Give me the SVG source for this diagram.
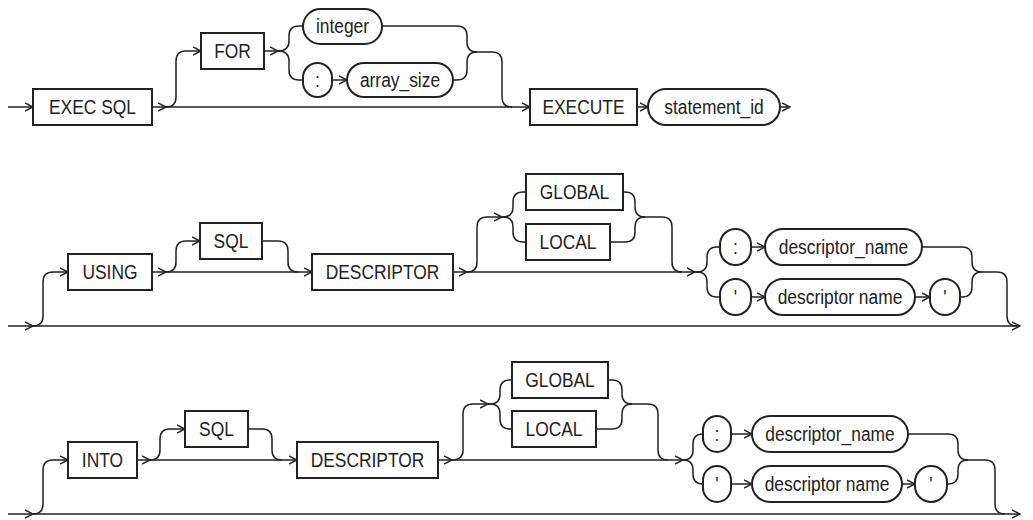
<svg xmlns="http://www.w3.org/2000/svg" width="1033" height="520" viewBox="0 0 1033 520">
<style>
.box{fill:#fff;stroke:#222;stroke-width:2}
.ln{fill:none;stroke:#222;stroke-width:1.5}
.a{marker-end:url(#arr)}
text{font-family:"Liberation Sans",Arial,sans-serif;font-size:20px;fill:#222;text-anchor:middle;transform-box:fill-box;transform-origin:center;transform:scaleX(0.87)}
</style>
<defs>
<marker id="arr" markerUnits="userSpaceOnUse" markerWidth="9" markerHeight="10" viewBox="0 0 9 10" refX="8.5" refY="5" orient="auto">
<path d="M0.5,1 L8.5,5 L0.5,9" fill="none" stroke="#222" stroke-width="1.5"/>
</marker>
</defs>
<rect width="1033" height="520" fill="#fff"/>
<g id="connectors">
<!-- row 1 -->
<path class="ln a" d="M8,107 H33"/>
<path class="ln a" d="M152,107 H166"/>
<path class="ln a" d="M166,107 H530"/>
<path class="ln a" d="M166,107 Q176,107 176,97 V61 Q176,51 186,51 H201"/>
<path class="ln a" d="M264,51 H278"/>
<path class="ln" d="M278,51 Q289,51 289,41 V36 Q289,26 299,26 H303"/>
<path class="ln" d="M278,51 Q289,51 289,61 V70 Q289,80 299,80 H303"/>
<path class="ln a" d="M332,80 H347"/>
<path class="ln" d="M382,26 H457 Q467,26 467,36 V42 Q467,52 477,52"/>
<path class="ln" d="M453,80 H457 Q467,80 467,70 V62 Q467,52 477,52"/>
<path class="ln" d="M477,52 H492 Q502,52 502,62 V97 Q502,107 512,107"/>
<path class="ln a" d="M637,107 H648"/>
<path class="ln a" d="M780,107 H790"/>
<!-- row 2 -->
<path class="ln a" d="M8,326 H33"/>
<path class="ln a" d="M33,326 H1020"/>
<path class="ln a" d="M33,326 Q43,326 43,316 V282 Q43,272 53,272 H68"/>
<path class="ln a" d="M152,272 H166"/>
<path class="ln a" d="M166,272 H312"/>
<path class="ln a" d="M166,272 Q176,272 176,262 V251 Q176,241 186,241 H200"/>
<path class="ln" d="M262,241 H278 Q288,241 288,251 V262 Q288,272 298,272"/>
<path class="ln a" d="M453,272 H467"/>
<path class="ln a" d="M467,272 H695"/>
<path class="ln a" d="M467,272 Q477,272 477,262 V227 Q477,217 487,217 H502"/>
<path class="ln" d="M502,217 H503 Q513,217 513,207 V202 Q513,192 523,192 H526"/>
<path class="ln" d="M502,217 H503 Q513,217 513,227 V232 Q513,242 523,242 H526"/>
<path class="ln" d="M623,192 H625 Q635,192 635,202 V207 Q635,217 645,217"/>
<path class="ln" d="M610,242 H625 Q635,242 635,232 V227 Q635,217 645,217"/>
<path class="ln" d="M645,217 H662 Q672,217 672,227 V262 Q672,272 682,272"/>
<path class="ln" d="M695,272 H697 Q707,272 707,262 V257 Q707,247 717,247 H720"/>
<path class="ln" d="M695,272 H697 Q707,272 707,282 V287 Q707,297 717,297 H720"/>
<path class="ln a" d="M751,247 H765"/>
<path class="ln a" d="M751,297 H765"/>
<path class="ln a" d="M915,297 H930"/>
<path class="ln" d="M922,247 H962 Q972,247 972,257 V262 Q972,272 982,272"/>
<path class="ln" d="M960,297 H962 Q972,297 972,287 V282 Q972,272 982,272"/>
<path class="ln" d="M982,272 H997 Q1007,272 1007,282 V316 Q1007,326 1017,326"/>
<!-- row 3 -->
<path class="ln a" d="M8,514 H33"/>
<path class="ln a" d="M33,514 H1020"/>
<path class="ln a" d="M33,514 Q43,514 43,504 V470 Q43,460 53,460 H68"/>
<path class="ln a" d="M137,460 H150"/>
<path class="ln a" d="M150,460 H297"/>
<path class="ln a" d="M150,460 Q160,460 160,450 V439 Q160,429 170,429 H185"/>
<path class="ln" d="M248,429 H262 Q272,429 272,439 V450 Q272,460 282,460"/>
<path class="ln a" d="M438,460 H452"/>
<path class="ln a" d="M452,460 H683"/>
<path class="ln a" d="M452,460 Q463,460 463,450 V414 Q463,404 473,404 H488"/>
<path class="ln" d="M488,404 H490 Q500,404 500,394 V390 Q500,380 510,380 H512"/>
<path class="ln" d="M488,404 H490 Q500,404 500,414 V419 Q500,429 510,429 H512"/>
<path class="ln" d="M608,380 H612 Q622,380 622,390 V394 Q622,404 632,404"/>
<path class="ln" d="M596,429 H612 Q622,429 622,419 V414 Q622,404 632,404"/>
<path class="ln" d="M632,404 H648 Q658,404 658,414 V450 Q658,460 668,460"/>
<path class="ln" d="M683,460 Q693,460 693,450 V444 Q693,434 703,434"/>
<path class="ln" d="M683,460 Q693,460 693,470 V474 Q693,484 703,484"/>
<path class="ln a" d="M731,434 H752"/>
<path class="ln a" d="M731,484 H752"/>
<path class="ln a" d="M902,484 H915"/>
<path class="ln" d="M908,434 H948 Q958,434 958,444 V450 Q958,460 968,460"/>
<path class="ln" d="M947,484 H948 Q958,484 958,474 V470 Q958,460 968,460"/>
<path class="ln" d="M968,460 H985 Q995,460 995,470 V504 Q995,514 1005,514"/>
</g>
<!-- row 1 nodes -->
<g id="n-execsql"><rect class="box" x="33" y="89" width="119" height="36"/><text x="92.5" y="114">EXEC SQL</text></g>
<g id="n-for"><rect class="box" x="201" y="33" width="63" height="36"/><text x="232.5" y="58">FOR</text></g>
<g id="n-integer"><rect class="box" x="303" y="9" width="79" height="35" rx="17.5"/><text x="342.5" y="33.5">integer</text></g>
<g id="n-colon1"><rect class="box" x="303" y="63" width="29" height="34" rx="14.5"/><text x="317.5" y="87">:</text></g>
<g id="n-array-size"><rect class="box" x="347" y="63" width="106" height="34" rx="17"/><text x="400" y="87">array_size</text></g>
<g id="n-execute"><rect class="box" x="530" y="89" width="107" height="36"/><text x="583.5" y="114">EXECUTE</text></g>
<g id="n-statement-id"><rect class="box" x="648" y="89" width="132" height="36" rx="18"/><text x="714" y="114">statement_id</text></g>
<!-- row 2 nodes -->
<g id="n-using"><rect class="box" x="68" y="254" width="84" height="36"/><text x="110" y="279">USING</text></g>
<g id="n-sql2"><rect class="box" x="200" y="223" width="62" height="36"/><text x="231" y="248">SQL</text></g>
<g id="n-descriptor2"><rect class="box" x="312" y="254" width="141" height="36"/><text x="382.5" y="279">DESCRIPTOR</text></g>
<g id="n-global2"><rect class="box" x="526" y="174" width="97" height="36"/><text x="574.5" y="199">GLOBAL</text></g>
<g id="n-local2"><rect class="box" x="526" y="224" width="84" height="36"/><text x="568" y="249">LOCAL</text></g>
<g id="n-colon2"><rect class="box" x="720" y="229" width="31" height="36" rx="15.5"/><text x="735.5" y="254">:</text></g>
<g id="n-descname2a"><rect class="box" x="765" y="229" width="157" height="36" rx="18"/><text x="843.5" y="254">descriptor_name</text></g>
<g id="n-quote2a"><rect class="box" x="720" y="279" width="31" height="36" rx="15.5"/><text x="735.5" y="304">'</text></g>
<g id="n-descname2b"><rect class="box" x="765" y="279" width="150" height="36" rx="18"/><text x="840" y="304">descriptor name</text></g>
<g id="n-quote2b"><rect class="box" x="930" y="279" width="30" height="36" rx="15"/><text x="945" y="304">'</text></g>
<!-- row 3 nodes -->
<g id="n-into"><rect class="box" x="68" y="442" width="69" height="36"/><text x="102.5" y="467">INTO</text></g>
<g id="n-sql3"><rect class="box" x="185" y="411" width="63" height="36"/><text x="216.5" y="436">SQL</text></g>
<g id="n-descriptor3"><rect class="box" x="297" y="442" width="141" height="36"/><text x="367.5" y="467">DESCRIPTOR</text></g>
<g id="n-global3"><rect class="box" x="512" y="362" width="96" height="36"/><text x="560" y="387">GLOBAL</text></g>
<g id="n-local3"><rect class="box" x="512" y="411" width="84" height="36"/><text x="554" y="436">LOCAL</text></g>
<g id="n-colon3"><rect class="box" x="703" y="416" width="28" height="36" rx="14"/><text x="717" y="441">:</text></g>
<g id="n-descname3a"><rect class="box" x="752" y="416" width="156" height="36" rx="18"/><text x="830" y="441">descriptor_name</text></g>
<g id="n-quote3a"><rect class="box" x="703" y="466" width="28" height="36" rx="14"/><text x="717" y="491">'</text></g>
<g id="n-descname3b"><rect class="box" x="752" y="466" width="150" height="36" rx="18"/><text x="827" y="491">descriptor name</text></g>
<g id="n-quote3b"><rect class="box" x="915" y="466" width="32" height="36" rx="16"/><text x="931" y="491">'</text></g>
</svg>
